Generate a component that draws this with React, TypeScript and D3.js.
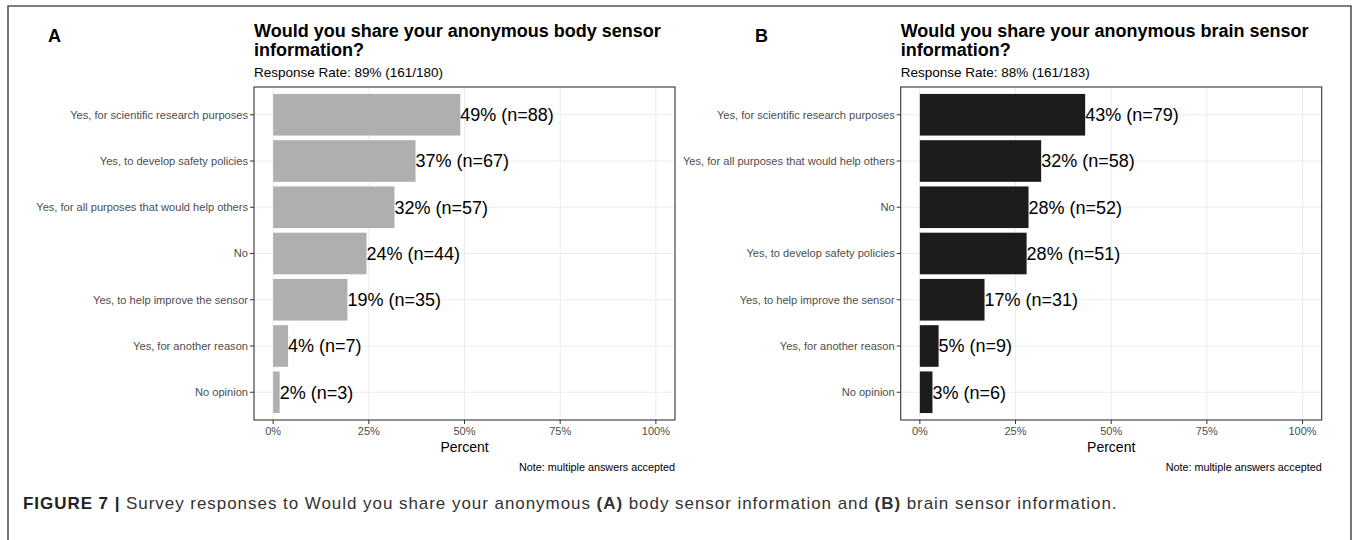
import React from "react";
import * as d3 from "d3";

const bodyCategories = [
  "Yes, for scientific research purposes",
  "Yes, to develop safety policies",
  "Yes, for all purposes that would help others",
  "No",
  "Yes, to help improve the sensor",
  "Yes, for another reason",
  "No opinion",
];
const bodyPercent = [48.9, 37.2, 31.7, 24.4, 19.4, 3.9, 1.7];
const bodyLabels = ["49% (n=88)", "37% (n=67)", "32% (n=57)", "24% (n=44)", "19% (n=35)", "4% (n=7)", "2% (n=3)"];

const brainCategories = [
  "Yes, for scientific research purposes",
  "Yes, for all purposes that would help others",
  "No",
  "Yes, to develop safety policies",
  "Yes, to help improve the sensor",
  "Yes, for another reason",
  "No opinion",
];
const brainPercent = [43.2, 31.7, 28.4, 27.9, 16.9, 4.9, 3.3];
const brainLabels = ["43% (n=79)", "32% (n=58)", "28% (n=52)", "28% (n=51)", "17% (n=31)", "5% (n=9)", "3% (n=6)"];

const xTicks = [0, 25, 50, 75, 100];
const xTickLabels = ["0%", "25%", "50%", "75%", "100%"];

const FONT = "'Liberation Sans', Arial, Helvetica, sans-serif";

type PanelProps = {
  letter: string;
  letterX: number;
  left: number;
  right: number;
  title1: string;
  title2: string;
  subtitle: string;
  categories: string[];
  values: number[];
  labels: string[];
  fill: string;
};

function Panel(p: PanelProps) {
  const top = 87;
  const bottom = 420;
  const x = d3.scaleLinear().domain([-5, 105]).range([p.left, p.right]);
  const y = d3
    .scaleBand<string>()
    .domain(p.categories)
    .range([top, bottom])
    .paddingInner(0.1)
    .paddingOuter(0.15)
    .align(0.5);
  const bw = y.bandwidth();
  const mid = (c: string) => (y(c) as number) + bw / 2;
  const cx = (p.left + p.right) / 2;
  return (
    <g>
      <text x={p.letterX} y={41.5} fontSize={18} fontWeight="bold" fill="#000">
        {p.letter}
      </text>
      <text x={p.left} y={36.5} fontSize={18} fontWeight="bold" fill="#000">
        {p.title1}
      </text>
      <text x={p.left} y={55.5} fontSize={18} fontWeight="bold" fill="#000">
        {p.title2}
      </text>
      <text x={p.left} y={77} fontSize={13.5} fill="#000">
        {p.subtitle}
      </text>
      <rect x={p.left} y={top} width={p.right - p.left} height={bottom - top} fill="#fff" />
      {xTicks.map((t) => (
        <line key={"gx" + t} x1={x(t)} x2={x(t)} y1={top} y2={bottom} stroke="#EBEBEB" strokeWidth={1} />
      ))}
      {p.categories.map((c) => (
        <line key={"gy" + c} x1={p.left} x2={p.right} y1={mid(c)} y2={mid(c)} stroke="#EBEBEB" strokeWidth={1} />
      ))}
      {p.categories.map((c, i) => (
        <rect
          key={"b" + c}
          x={x(0)}
          y={y(c) as number}
          width={x(p.values[i]) - x(0)}
          height={bw}
          fill={p.fill}
        />
      ))}
      {p.categories.map((c, i) => (
        <text key={"l" + c} x={x(p.values[i])} y={mid(c)} dy="0.36em" fontSize={18} fill="#000">
          {p.labels[i]}
        </text>
      ))}
      <rect
        x={p.left}
        y={top}
        width={p.right - p.left}
        height={bottom - top}
        fill="none"
        stroke="#333333"
        strokeWidth={1.1}
      />
      {p.categories.map((c) => (
        <g key={"yt" + c}>
          <line x1={p.left - 4} x2={p.left} y1={mid(c)} y2={mid(c)} stroke="#333" strokeWidth={1} />
          <text x={p.left - 6} y={mid(c)} dy="0.35em" fontSize={11.1} fill="#4D4D4D" textAnchor="end">
            {c}
          </text>
        </g>
      ))}
      {xTicks.map((t, i) => (
        <g key={"xt" + t}>
          <line x1={x(t)} x2={x(t)} y1={bottom} y2={bottom + 4} stroke="#333" strokeWidth={1} />
          <text x={x(t)} y={435} fontSize={11} fill="#4D4D4D" textAnchor="middle">
            {xTickLabels[i]}
          </text>
        </g>
      ))}
      <text x={cx} y={452} fontSize={14} fill="#000" textAnchor="middle">
        Percent
      </text>
      <text x={p.right} y={470.5} fontSize={10.8} fill="#000" textAnchor="end">
        Note: multiple answers accepted
      </text>
    </g>
  );
}

export default function App() {
  return (
    <svg
      width={1358}
      height={540}
      style={{ position: "absolute", left: 0, top: 0, background: "#fff" }}
      fontFamily={FONT}
    >
      <rect x={0} y={0} width={1358} height={540} fill="#fff" />
      <path d="M8,560 V6 H1351 V560" fill="none" stroke="#555" strokeWidth={1.6} />
      <Panel
        letter="A"
        letterX={48}
        left={254}
        right={675}
        title1="Would you share your anonymous body sensor"
        title2="information?"
        subtitle="Response Rate: 89% (161/180)"
        categories={bodyCategories}
        values={bodyPercent}
        labels={bodyLabels}
        fill="#AFAFAF"
      />
      <Panel
        letter="B"
        letterX={755}
        left={900.7}
        right={1321.7}
        title1="Would you share your anonymous brain sensor"
        title2="information?"
        subtitle="Response Rate: 88% (161/183)"
        categories={brainCategories}
        values={brainPercent}
        labels={brainLabels}
        fill="#1C1C1C"
      />
      <text x={23} y={509} fontSize={17} fill="#333" letterSpacing={0.95}>
        <tspan fontWeight="bold" fill="#222">FIGURE 7 | </tspan>
        <tspan>Survey responses to Would you share your anonymous </tspan>
        <tspan fontWeight="bold">(A)</tspan>
        <tspan> body sensor information and </tspan>
        <tspan fontWeight="bold">(B)</tspan>
        <tspan> brain sensor information.</tspan>
      </text>
    </svg>
  );
}
